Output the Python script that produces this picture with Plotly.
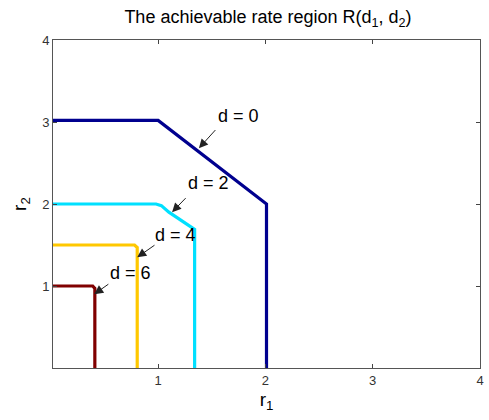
import plotly.graph_objects as go

# Rate region boundaries for each d
d0_r1 = [0.0, 1.0, 2.01, 2.01]
d0_r2 = [3.02, 3.02, 2.0, 0.0]
d2_r1 = [0.0, 0.98, 1.03, 1.1, 1.34, 1.34]
d2_r2 = [2.0, 2.0, 1.98, 1.9, 1.69, 0.0]
d4_r1 = [0.0, 0.78, 0.805, 0.805]
d4_r2 = [1.5, 1.5, 1.47, 0.0]
d6_r1 = [0.0, 0.39, 0.41, 0.41]
d6_r2 = [1.0, 1.0, 0.97, 0.0]

labels = ["d = 0", "d = 2", "d = 4", "d = 6"]
head_x = [1.38, 1.13, 0.805, 0.404]
head_y = [2.68, 1.90, 1.35, 0.90]
tail_x = [1.546, 1.27, 0.98, 0.55]
tail_y = [2.92, 2.09, 1.51, 1.035]
text_x = [1.745, 1.47, 1.163, 0.738]
text_y = [3.07, 2.26, 1.62, 1.16]

ticks = [1, 2, 3, 4]

series = [
    (d0_r1, d0_r2, "#00008F"),
    (d2_r1, d2_r2, "#00E0FF"),
    (d4_r1, d4_r2, "#FFC800"),
    (d6_r1, d6_r2, "#800000"),
]

fig = go.Figure()
for xs, ys, c in series:
    fig.add_trace(go.Scatter(x=xs, y=ys, mode="lines",
                             line=dict(color=c, width=3.2), showlegend=False))

ann = []
for lab, hx, hy, tx, ty, lx, ly in zip(labels, head_x, head_y, tail_x, tail_y, text_x, text_y):
    ann.append(dict(x=hx, y=hy, ax=tx, ay=ty, xref="x", yref="y", axref="x", ayref="y",
                    text="", showarrow=True, arrowhead=2, arrowsize=1.8, arrowwidth=1,
                    arrowcolor="#222222"))
    ann.append(dict(x=lx, y=ly, xref="x", yref="y", text=lab, showarrow=False,
                    font=dict(size=18, color="black", family="Liberation Sans")))

axis_common = dict(showgrid=False, zeroline=False, ticks="inside", ticklen=4,
                   tickcolor="#444444", linecolor="#555555", linewidth=1, showline=True,
                   mirror="allticks", tickvals=ticks,
                   tickfont=dict(size=13, color="#333333", family="Liberation Sans"))

fig.update_layout(
    width=489, height=420,
    margin=dict(l=53, r=5, t=40, b=52),
    plot_bgcolor="white", paper_bgcolor="white",
    title=dict(text="The achievable rate region R(d<sub>1</sub>, d<sub>2</sub>)",
               x=0.548, xanchor="center", y=0.96, yanchor="middle",
               font=dict(size=18, color="black", family="Liberation Sans")),
    xaxis=dict(range=[0.02, 4], title=dict(text="r<sub>1</sub>", standoff=6,
               font=dict(size=19, color="black", family="Liberation Sans")), **axis_common),
    yaxis=dict(range=[0, 4], title=dict(text="r<sub>2</sub>", standoff=10,
               font=dict(size=19, color="black", family="Liberation Sans")), **axis_common),
    annotations=ann,
)

fig.write_html("out.html")
